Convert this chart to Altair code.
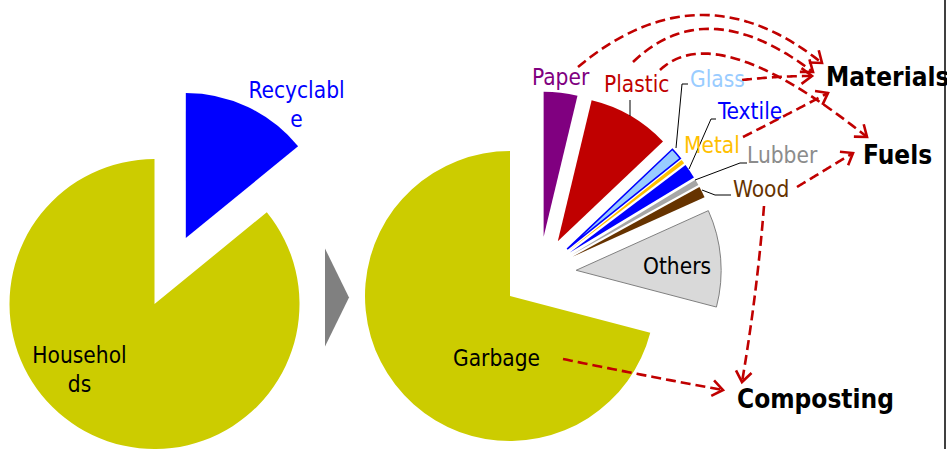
import math

import altair as alt
import numpy as np
import pandas as pd

# ---------------------------------------------------------------- data
SOURCE_CATS = ["Recyclable", "Households"]
SOURCE_SHARE = [14.1, 85.9]

WASTE_CATS = ["Paper", "Plastic", "Glass", "Metal", "Textile",
              "Lubber", "Wood", "Others", "Garbage"]
WASTE_SHARE = [3.75, 9.17, 1.33, 0.44, 1.64, 0.67, 1.25, 10.83, 70.92]

# recycling routes: (from, to)
FLOW_FROM = ["Paper", "Plastic", "Plastic", "Glass", "Metal", "Wood", "Wood", "Garbage"]
FLOW_TO = ["Materials", "Materials", "Fuels", "Materials", "Materials",
           "Fuels", "Composting", "Composting"]

DESTINATIONS = ["Materials", "Fuels", "Composting"]

# ---------------------------------------------------------------- styles / layout
W, H = 947, 449
TAU = 2 * math.pi
FONT = "DejaVu Sans Condensed"
RADIUS = 145
RED = "#C00000"

FILL = {
    "Recyclable": "#0000FF", "Households": "#CCCC00",
    "Paper": "#800080", "Plastic": "#C00000", "Glass": "#99CCFF",
    "Metal": "#FFC000", "Textile": "#0000FF", "Lubber": "#A6A6A6",
    "Wood": "#663300", "Others": "#D9D9D9", "Garbage": "#CCCC00",
}
OUTLINE = {"Glass": ("#0000FF", 1.6), "Others": ("#808080", 1.0)}
LABEL_COLOR = {
    "Paper": "#800080", "Plastic": "#C00000", "Glass": "#99CCFF",
    "Textile": "#0000FF", "Metal": "#FFC000", "Lubber": "#8C8C8C",
    "Wood": "#663300", "Others": "black", "Garbage": "black",
}
# left x / baseline y of each slice label
LABEL_POS = {
    "Paper": (532, 85), "Plastic": (604, 92), "Glass": (690, 87),
    "Textile": (718, 119), "Metal": (684, 153), "Lubber": (747, 163),
    "Wood": (733, 197), "Others": (643, 274), "Garbage": (453, 366),
}
DEST_POS = {"Materials": (826, 86), "Fuels": (863, 164), "Composting": (737, 408)}

# leader lines from labels to thin slices
LEADERS = {
    "Plastic": [(630, 100), (630, 116)],
    "Glass": [(688, 84), (682, 84), (676, 148)],
    "Textile": [(716, 119), (711, 119), (689, 169)],
    "Lubber": [(747, 163), (740, 163), (695, 180)],
    "Wood": [(731, 195), (715, 195), (702, 190)],
}

# start, via (curve midpoint), tip of each dashed arrow
ARROW_PATHS = [
    ((578, 67), (700, 15), (822, 63)),
    ((633, 62), (715, 29), (813, 72)),
    ((660, 70), (740, 60), (867, 137)),
    ((742, 80), (778, 77), (812, 76)),
    ((743, 137), (786, 115), (828, 93)),
    ((797, 187), (825, 170), (853, 153)),
    ((764, 206), (755, 294), (742, 382)),
    ((563, 359), (643, 375), (723, 390)),
]


def pie_rows(cats, shares, center, explode, group=(), group_explode=0.0):
    total = float(sum(shares))
    cum = np.concatenate([[0.0], np.cumsum(shares)])
    idx = [i for i, c in enumerate(cats) if c in group]
    gmid = (cum[idx[0]] + cum[idx[-1] + 1]) / 2 / total * TAU if idx else 0.0
    rows = []
    for i, c in enumerate(cats):
        mid = (cum[i] + cum[i + 1]) / 2 / total * TAU
        e = explode.get(c, 0.0)
        dx, dy = e * math.sin(mid), -e * math.cos(mid)
        if c in group:
            dx += group_explode * math.sin(gmid)
            dy -= group_explode * math.cos(gmid)
        stroke, sw = OUTLINE.get(c, ("transparent", 0.0))
        rows.append(dict(category=c,
                         start=cum[i] / total * 100, end=cum[i + 1] / total * 100,
                         cx=center[0] + dx, cy=center[1] + dy,
                         fill=FILL[c], stroke=stroke, sw=sw))
    return rows


source_df = pd.DataFrame(pie_rows(SOURCE_CATS, SOURCE_SHARE, (154.5, 304),
                                  {"Recyclable": 73}))
sorted_group = [c for c in WASTE_CATS if c != "Garbage"]
waste_df = pd.DataFrame(pie_rows(WASTE_CATS, WASTE_SHARE, (510, 296),
                                 {c: 37 for c in sorted_group},
                                 group=sorted_group, group_explode=37))
pie_df = pd.concat([source_df, waste_df], ignore_index=True)

theta_scale = alt.Scale(domain=[0, 100], range=[0, TAU])
pies = alt.Chart(pie_df).mark_arc(radius=RADIUS).encode(
    theta=alt.Theta("start:Q", scale=theta_scale),
    theta2="end:Q",
    x=alt.X("cx:Q", scale=None, axis=None),
    y=alt.Y("cy:Q", scale=None, axis=None),
    fill=alt.Fill("fill:N", scale=None),
    stroke=alt.Stroke("stroke:N", scale=None),
    strokeWidth=alt.StrokeWidth("sw:Q", scale=None),
)

# slice labels
label_df = pd.DataFrame([
    dict(text=c, x=LABEL_POS[c][0], y=LABEL_POS[c][1], color=LABEL_COLOR[c])
    for c in WASTE_CATS
])
labels = alt.Chart(label_df).mark_text(
    align="left", baseline="alphabetic", font=FONT, fontSize=22.5
).encode(
    x=alt.X("x:Q", scale=None), y=alt.Y("y:Q", scale=None),
    text="text:N", color=alt.Color("color:N", scale=None),
)

# wrapped labels on the first pie
wrap_df = pd.DataFrame([
    dict(text="Recyclabl\ne", x=296.5, y=98, color="#0000FF"),
    dict(text="Househol\nds", x=79.5, y=363, color="black"),
])
wrapped = alt.Chart(wrap_df).mark_text(
    align="center", baseline="alphabetic", font=FONT, fontSize=22.5,
    lineBreak="\n", lineHeight=29,
).encode(
    x=alt.X("x:Q", scale=None), y=alt.Y("y:Q", scale=None),
    text="text:N", color=alt.Color("color:N", scale=None),
)

dest_df = pd.DataFrame([dict(text=d, x=DEST_POS[d][0], y=DEST_POS[d][1])
                        for d in DESTINATIONS])
dests = alt.Chart(dest_df).mark_text(
    align="left", baseline="alphabetic", font=FONT, fontSize=26,
    fontWeight="bold", color="black",
).encode(x=alt.X("x:Q", scale=None), y=alt.Y("y:Q", scale=None), text="text:N")

# leader lines
lead_rows = []
for name, pts in LEADERS.items():
    for i, (px, py) in enumerate(pts):
        lead_rows.append(dict(id=name, i=i, x=px, y=py))
leaders = alt.Chart(pd.DataFrame(lead_rows)).mark_line(
    color="black", strokeWidth=1
).encode(
    x=alt.X("x:Q", scale=None), y=alt.Y("y:Q", scale=None),
    detail="id:N", order="i:Q",
)

# dashed flow arrows (quadratic curves through a midpoint)
curve_rows, head_rows = [], []
ts = np.linspace(0, 1, 40)
for k, ((sx, sy), (mx, my), (ex, ey)) in enumerate(ARROW_PATHS):
    cx_, cy_ = 2 * mx - (sx + ex) / 2, 2 * my - (sy + ey) / 2
    for i, t in enumerate(ts):
        a, b, c = (1 - t) ** 2, 2 * (1 - t) * t, t ** 2
        curve_rows.append(dict(flow=f"{FLOW_FROM[k]}-{FLOW_TO[k]}-{k}", i=i,
                               x=a * sx + b * cx_ + c * ex,
                               y=a * sy + b * cy_ + c * ey))
    ang = math.degrees(math.atan2(ey - cy_, ex - cx_)) % 360
    head_rows.append(dict(x=ex, y=ey, ang=ang))

flows = alt.Chart(pd.DataFrame(curve_rows)).mark_line(
    color=RED, strokeWidth=2.6, strokeDash=[10, 5]
).encode(
    x=alt.X("x:Q", scale=None), y=alt.Y("y:Q", scale=None),
    detail="flow:N", order="i:Q",
)
heads = alt.Chart(pd.DataFrame(head_rows)).mark_point(
    shape="M -1 -0.75 L 0 0 L -1 0.75", size=441, filled=False,
    stroke=RED, strokeWidth=2.6, opacity=1,
).encode(
    x=alt.X("x:Q", scale=None), y=alt.Y("y:Q", scale=None),
    angle=alt.Angle("ang:Q", scale=None),
)

# grey transition arrow between the pies
step = alt.Chart(pd.DataFrame({"x": [337], "y": [297.5]})).mark_point(
    shape="M -0.245 -1 L 0.245 0 L -0.245 1 Z", size=9604, filled=True,
    fill="#808080", strokeWidth=0, opacity=1,
).encode(x=alt.X("x:Q", scale=None), y=alt.Y("y:Q", scale=None))

edge = alt.Chart(pd.DataFrame({"x": [945]})).mark_rule(
    color="black", strokeWidth=1.5
).encode(x=alt.X("x:Q", scale=None), y=alt.value(0), y2=alt.value(H))

chart = alt.layer(
    pies, step, leaders, flows, heads, labels, wrapped, dests, edge
).properties(
    width=W, height=H, padding=0, autosize="none", background="white",
).configure_view(stroke=None)

chart.save("out.html", embed_options={"renderer": "svg", "actions": False})
